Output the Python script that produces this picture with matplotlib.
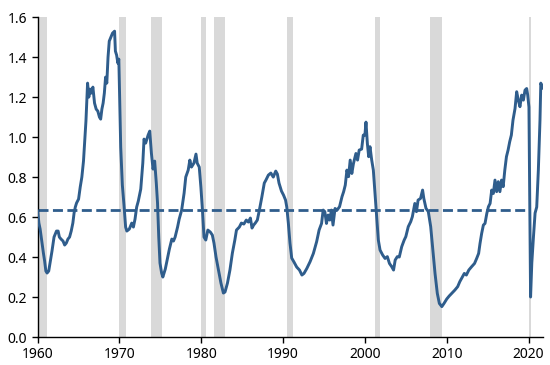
import matplotlib.pyplot as plt

plt.rcParams['font.family'] = ['Noto Sans', 'DejaVu Sans']

# ratio series (decimal year, value)
years = [
    1960.0, 1960.15, 1960.3, 1960.5, 1960.7, 1960.85, 1961.0, 1961.15, 1961.35, 1961.55,
    1961.75, 1962.0, 1962.3, 1962.5, 1962.65, 1962.85, 1963.1, 1963.3, 1963.5, 1963.7,
    1963.9, 1964.1, 1964.3, 1964.45, 1964.6, 1964.75, 1965.0, 1965.2, 1965.4, 1965.6,
    1965.75, 1965.9, 1966.1, 1966.25, 1966.4, 1966.55, 1966.75, 1966.95, 1967.15, 1967.35,
    1967.55, 1967.7, 1967.85, 1968.0, 1968.15, 1968.3, 1968.45, 1968.6, 1968.75, 1968.95,
    1969.15, 1969.4, 1969.5, 1969.65, 1969.8, 1969.92, 1970.05, 1970.15, 1970.35, 1970.55,
    1970.75, 1970.9, 1971.2, 1971.5, 1971.7, 1971.9, 1972.1, 1972.3, 1972.6, 1972.85,
    1973.0, 1973.2, 1973.35, 1973.5, 1973.7, 1973.9, 1974.1, 1974.3, 1974.5, 1974.65,
    1974.8, 1974.95, 1975.15, 1975.3, 1975.6, 1975.85, 1976.1, 1976.4, 1976.6, 1976.8,
    1977.1, 1977.3, 1977.6, 1977.9, 1978.1, 1978.4, 1978.6, 1978.8, 1979.1, 1979.35,
    1979.5, 1979.75, 1979.95, 1980.15, 1980.33, 1980.55, 1980.8, 1981.1, 1981.35, 1981.55,
    1981.8, 1982.1, 1982.4, 1982.7, 1982.9, 1983.2, 1983.5, 1983.8, 1984.1, 1984.3,
    1984.65, 1984.9, 1985.2, 1985.5, 1985.75, 1986.0, 1986.2, 1986.4, 1986.6, 1986.85,
    1987.1, 1987.4, 1987.7, 1987.9, 1988.2, 1988.5, 1988.8, 1989.1, 1989.3, 1989.5,
    1989.8, 1990.05, 1990.3, 1990.45, 1990.64, 1990.84, 1991.05, 1991.33, 1991.66, 1992.0,
    1992.3, 1992.55, 1992.9, 1993.3, 1993.7, 1994.1, 1994.4, 1994.7, 1994.9, 1995.1,
    1995.3, 1995.5, 1995.7, 1995.9, 1996.1, 1996.35, 1996.6, 1996.9, 1997.2, 1997.4,
    1997.6, 1997.8, 1998.0, 1998.2, 1998.4, 1998.6, 1998.9, 1999.1, 1999.3, 1999.6,
    1999.8, 2000.0, 2000.13, 2000.3, 2000.46, 2000.62, 2000.83, 2001.03, 2001.23, 2001.44,
    2001.64, 2001.85, 2002.17, 2002.46, 2002.74, 2003.0, 2003.27, 2003.5, 2003.7, 2003.96,
    2004.2, 2004.5, 2004.8, 2005.0, 2005.3, 2005.6, 2005.8, 2006.1, 2006.3, 2006.5,
    2006.8, 2007.05, 2007.2, 2007.47, 2007.75, 2008.04, 2008.3, 2008.57, 2008.85, 2009.1,
    2009.4, 2009.67, 2010.0, 2010.3, 2010.6, 2011.0, 2011.34, 2011.6, 2011.9, 2012.15,
    2012.4, 2012.7, 2013.05, 2013.4, 2013.66, 2013.9, 2014.07, 2014.27, 2014.48, 2014.68,
    2014.9, 2015.1, 2015.3, 2015.5, 2015.7, 2015.9, 2016.1, 2016.3, 2016.5, 2016.7,
    2016.9, 2017.1, 2017.3, 2017.5, 2017.7, 2017.9, 2018.1, 2018.35, 2018.55, 2018.75,
    2018.95, 2019.16, 2019.37, 2019.57, 2019.77, 2019.9, 2020.05, 2020.15, 2020.25, 2020.4,
    2020.6, 2020.8, 2021.0, 2021.2, 2021.4, 2021.5, 2021.7,
]
values = [
    0.63, 0.57, 0.54, 0.48, 0.42, 0.38, 0.33, 0.32, 0.33, 0.38,
    0.43, 0.50, 0.53, 0.53, 0.50, 0.49, 0.48, 0.46, 0.47, 0.49,
    0.50, 0.53, 0.57, 0.62, 0.65, 0.67, 0.69, 0.75, 0.80, 0.88,
    0.98, 1.08, 1.27, 1.20, 1.24, 1.22, 1.25, 1.17, 1.14, 1.13,
    1.10, 1.09, 1.14, 1.17, 1.22, 1.30, 1.27, 1.40, 1.48, 1.50,
    1.52, 1.53, 1.43, 1.41, 1.37, 1.39, 1.15, 0.95, 0.76, 0.66,
    0.55, 0.53, 0.54, 0.57, 0.55, 0.59, 0.65, 0.68, 0.74, 0.87,
    0.99, 0.97, 0.99, 1.01, 1.03, 0.92, 0.84, 0.88, 0.77, 0.67,
    0.50, 0.37, 0.32, 0.30, 0.34, 0.39, 0.44, 0.49, 0.48, 0.50,
    0.55, 0.59, 0.635, 0.72, 0.80, 0.835, 0.885, 0.85, 0.87, 0.915,
    0.87, 0.85, 0.75, 0.63, 0.50, 0.485, 0.535, 0.525, 0.51, 0.47,
    0.40, 0.335, 0.27, 0.22, 0.225, 0.27, 0.335, 0.42, 0.485, 0.535,
    0.55, 0.57, 0.565, 0.585, 0.575, 0.595, 0.545, 0.56, 0.57, 0.585,
    0.635, 0.70, 0.77, 0.785, 0.81, 0.82, 0.80, 0.83, 0.815, 0.77,
    0.73, 0.71, 0.685, 0.65, 0.57, 0.47, 0.395, 0.375, 0.35, 0.335,
    0.31, 0.318, 0.343, 0.377, 0.418, 0.477, 0.535, 0.568, 0.635, 0.627,
    0.568, 0.61, 0.585, 0.635, 0.56, 0.643, 0.635, 0.652, 0.702, 0.727,
    0.76, 0.835, 0.802, 0.885, 0.818, 0.868, 0.918, 0.885, 0.935, 0.94,
    1.01, 1.01, 1.075, 0.968, 0.902, 0.952, 0.885, 0.835, 0.718, 0.602,
    0.485, 0.435, 0.41, 0.393, 0.402, 0.368, 0.352, 0.335, 0.385, 0.402,
    0.40, 0.452, 0.485, 0.502, 0.552, 0.577, 0.602, 0.668, 0.627, 0.685,
    0.693, 0.735, 0.693, 0.643, 0.627, 0.552, 0.435, 0.318, 0.218, 0.168,
    0.152, 0.168, 0.19, 0.205, 0.218, 0.235, 0.252, 0.277, 0.30, 0.318,
    0.31, 0.335, 0.352, 0.368, 0.393, 0.418, 0.468, 0.518, 0.56, 0.568,
    0.618, 0.652, 0.668, 0.735, 0.718, 0.785, 0.727, 0.777, 0.727, 0.785,
    0.752, 0.835, 0.902, 0.935, 0.977, 1.01, 1.085, 1.143, 1.227, 1.185,
    1.152, 1.21, 1.185, 1.235, 1.243, 1.21, 1.15, 0.70, 0.20, 0.37,
    0.50, 0.62, 0.65, 0.835, 1.085, 1.27, 1.245,
]

# recessions (start, end) in decimal years
rec_start = [1960.2, 1969.95, 1973.85, 1980.0, 1981.5, 1990.5, 2001.2, 2007.9, 2020.1]
rec_end = [1961.1, 1970.85, 1975.2, 1980.55, 1982.9, 1991.2, 2001.9, 2009.45, 2020.35]

avg_level = 0.635
avg_end = 2019.6

line_color = '#2F5D8C'

fig = plt.figure(figsize=(5.5, 3.65), dpi=100)
ax = fig.add_axes([0.0685, 0.0767, 0.9185, 0.8763])

for s, e in zip(rec_start, rec_end):
    ax.axvspan(s, e, color='#D9D9D9', lw=0, zorder=0)

ax.plot(years, values, color=line_color, lw=2.1, zorder=3)
ax.plot([1960, avg_end], [avg_level, avg_level], color=line_color, lw=2.0,
        linestyle=(0, (3.6, 1.6)), zorder=2)

ax.set_xlim(1960, 2021.75)
ax.set_ylim(0, 1.6)
ax.set_xticks(range(1960, 2021, 10))
ax.set_yticks([i * 0.2 for i in range(9)])
ax.yaxis.set_major_formatter(plt.FuncFormatter(lambda y, p: f'{y:.1f}'))

for side in ['top', 'right']:
    ax.spines[side].set_visible(False)
for side in ['left', 'bottom']:
    ax.spines[side].set_linewidth(1.0)
    ax.spines[side].set_color('black')
ax.tick_params(direction='out', length=4, width=1, labelsize=10, colors='black')

plt.savefig('out.png', dpi=100)
plt.close()
